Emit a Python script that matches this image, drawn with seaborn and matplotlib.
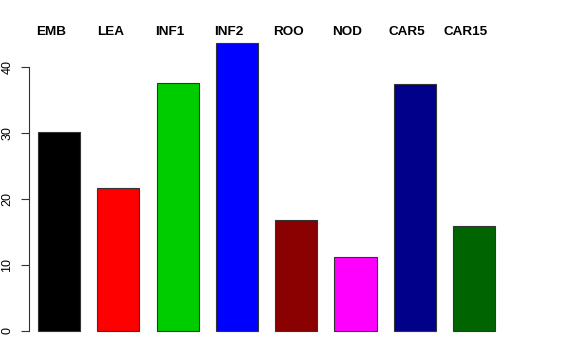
"""Bar chart of tissue values, R barplot look"""

import matplotlib
matplotlib.use('Agg')
import matplotlib.pyplot as plt
import matplotlib.transforms as mtransforms
import seaborn as sns
import pandas as pd

# data
tissues = ['EMB', 'LEA', 'INF1', 'INF2', 'ROO', 'NOD', 'CAR5', 'CAR15']
values = [30.1, 21.7, 37.6, 43.6, 16.8, 11.2, 37.4, 15.9]
colors = ['#000000', '#FF0000', '#00CD00', '#0000FF',
          '#8B0000', '#FF00FF', '#00008B', '#006400']
yticks = [0, 10, 20, 30, 40]

df = pd.DataFrame({'tissue': tissues, 'value': values})

sns.set_style('white')
plt.rcParams['font.family'] = ['Liberation Sans', 'DejaVu Sans']
plt.rcParams['text.color'] = 'black'
plt.rcParams['xtick.color'] = 'black'
plt.rcParams['ytick.color'] = 'black'

fig = plt.figure(figsize=(5.76, 3.6), dpi=100)
# axes placed in pixel terms: left 29, right 540, top 42, bottom 340
W, H = 576, 360
ax = fig.add_axes([29 / W, (H - 340) / H, (540 - 29) / W, (340 - 42) / H])

sns.barplot(data=df, x='tissue', y='value', hue='tissue', palette=colors,
            width=0.71, edgecolor='#333333', linewidth=0.8, legend=False,
            saturation=1, ax=ax)

# 59.3 px per category, first bar centred at px 59
ppx = 59.3
ax.set_xlim((29 - 59) / ppx, (540 - 59) / ppx)
ppy = 6.6
ax.set_ylim(-(340 - 331) / ppy, (331 - 42) / ppy)

ax.set_xlabel('')
ax.set_ylabel('')
ax.xaxis.tick_top()
ax.tick_params(axis='x', length=0, pad=3, labelsize=9.7)
# labels sit a little left of the bar centres
shift = mtransforms.ScaledTranslation(-8 / 100, 0, fig.dpi_scale_trans)
for lab in ax.get_xticklabels():
    lab.set_fontweight('bold')
    lab.set_transform(lab.get_transform() + shift)

ax.set_yticks(yticks)
ax.set_yticklabels([str(t) for t in yticks], rotation=90, va='center')
ax.tick_params(axis='y', length=5.8, width=0.8, color='#333333', pad=5.5,
               labelsize=9, left=True)

for side in ['top', 'right', 'bottom']:
    ax.spines[side].set_visible(False)
ax.spines['left'].set_bounds(yticks[0], yticks[-1])
ax.spines['left'].set_color('#333333')
ax.spines['left'].set_linewidth(0.8)

fig.savefig('out.png', dpi=100)
